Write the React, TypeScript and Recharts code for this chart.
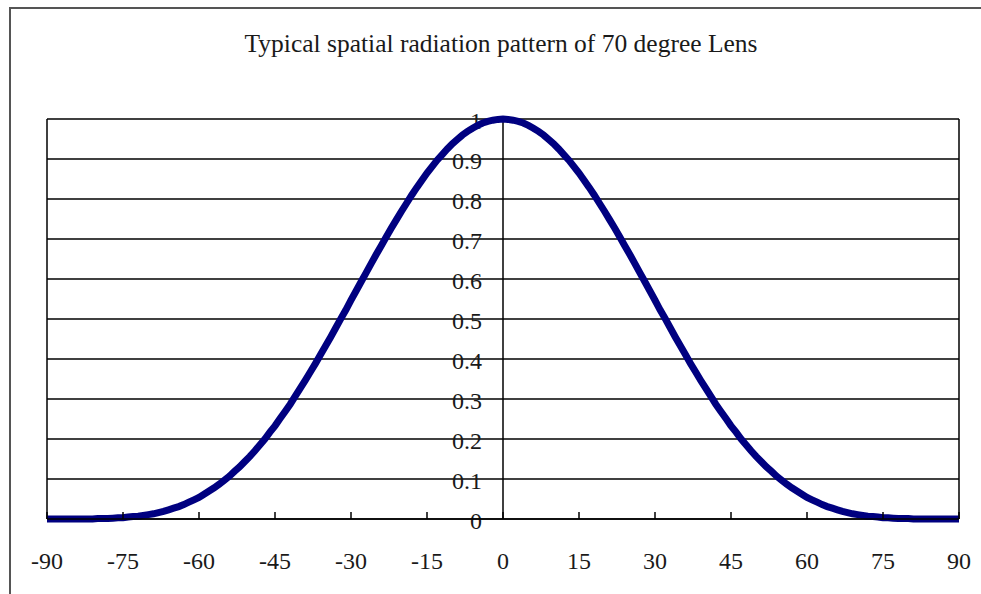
import { LineChart, Line, XAxis, YAxis, ReferenceLine } from "recharts";

// viewing angle in degrees
const angles = [
  -90, -89, -88, -87, -86, -85, -84, -83, -82, -81, -80, -79, -78, -77, -76, -75, -74, -73, -72, -71,
  -70, -69, -68, -67, -66, -65, -64, -63, -62, -61, -60, -59, -58, -57, -56, -55, -54, -53, -52, -51,
  -50, -49, -48, -47, -46, -45, -44, -43, -42, -41, -40, -39, -38, -37, -36, -35, -34, -33, -32, -31,
  -30, -29, -28, -27, -26, -25, -24, -23, -22, -21, -20, -19, -18, -17, -16, -15, -14, -13, -12, -11,
  -10, -9, -8, -7, -6, -5, -4, -3, -2, -1, 0, 1, 2, 3, 4, 5, 6, 7, 8, 9,
  10, 11, 12, 13, 14, 15, 16, 17, 18, 19, 20, 21, 22, 23, 24, 25, 26, 27, 28, 29,
  30, 31, 32, 33, 34, 35, 36, 37, 38, 39, 40, 41, 42, 43, 44, 45, 46, 47, 48, 49,
  50, 51, 52, 53, 54, 55, 56, 57, 58, 59, 60, 61, 62, 63, 64, 65, 66, 67, 68, 69,
  70, 71, 72, 73, 74, 75, 76, 77, 78, 79, 80, 81, 82, 83, 84, 85, 86, 87, 88, 89, 90,
];

// relative intensity
const intensity = [
  0, 0, 0, 0, 0, 0, 0, 0, 0, 0, 0.001, 0.001, 0.001, 0.002, 0.003, 0.003, 0.005, 0.006, 0.007, 0.009,
  0.011, 0.013, 0.016, 0.019, 0.023, 0.027, 0.031, 0.036, 0.042, 0.048, 0.054, 0.062, 0.07, 0.078, 0.087, 0.097, 0.107, 0.119, 0.13, 0.143,
  0.156, 0.17, 0.185, 0.2, 0.217, 0.233, 0.251, 0.269, 0.287, 0.307, 0.327, 0.347, 0.368, 0.389, 0.411, 0.433, 0.455, 0.478, 0.501, 0.523,
  0.547, 0.57, 0.593, 0.616, 0.639, 0.662, 0.684, 0.706, 0.728, 0.749, 0.77, 0.79, 0.81, 0.829, 0.847, 0.865, 0.881, 0.897, 0.911, 0.925,
  0.938, 0.949, 0.96, 0.969, 0.977, 0.984, 0.99, 0.994, 0.997, 0.999, 1, 0.999, 0.997, 0.994, 0.99, 0.984, 0.977, 0.969, 0.96, 0.949,
  0.938, 0.925, 0.911, 0.897, 0.881, 0.865, 0.847, 0.829, 0.81, 0.79, 0.77, 0.749, 0.728, 0.706, 0.684, 0.662, 0.639, 0.616, 0.593, 0.57,
  0.547, 0.523, 0.501, 0.478, 0.455, 0.433, 0.411, 0.389, 0.368, 0.347, 0.327, 0.307, 0.287, 0.269, 0.251, 0.233, 0.217, 0.2, 0.185, 0.17,
  0.156, 0.143, 0.13, 0.119, 0.107, 0.097, 0.087, 0.078, 0.07, 0.062, 0.054, 0.048, 0.042, 0.036, 0.031, 0.027, 0.023, 0.019, 0.016, 0.013,
  0.011, 0.009, 0.007, 0.006, 0.005, 0.003, 0.003, 0.002, 0.001, 0.001, 0.001, 0, 0, 0, 0, 0, 0, 0, 0, 0, 0,
];

const xTicks = [-90, -75, -60, -45, -30, -15, 0, 15, 30, 45, 60, 75, 90];
const yTicks = [0, 0.1, 0.2, 0.3, 0.4, 0.5, 0.6, 0.7, 0.8, 0.9, 1];

const data = angles.map((a, i) => ({ angle: a, value: intensity[i] }));

const FONT = "'Times New Roman', 'Liberation Serif', serif";

function YLabel(props: any) {
  const vb = props.viewBox;
  if (!vb) return null;
  return (
    <text
      x={vb.x + vb.width / 2 - 21}
      y={vb.y + 2}
      textAnchor="end"
      dominantBaseline="central"
      fontSize={24}
      fontFamily={FONT}
      fill="#1a1a1a"
    >
      {props.value}
    </text>
  );
}

export default function App() {
  return (
    <div
      style={{
        position: "fixed",
        left: 0,
        top: 0,
        width: 981,
        height: 594,
        overflow: "hidden",
        background: "#fff",
      }}
    >
      <div
        style={{
          position: "absolute",
          left: 9,
          top: 7,
          width: 1000,
          height: 620,
          borderLeft: "2px solid #555",
          borderTop: "2px solid #555",
        }}
      />
      <div
        style={{
          position: "absolute",
          left: 0,
          top: 31,
          width: 1002,
          textAlign: "center",
          fontFamily: FONT,
          fontSize: 25.5,
          lineHeight: "25px",
          color: "#1a1a1a",
        }}
      >
        Typical spatial radiation pattern of 70 degree Lens
      </div>
      <div style={{ position: "absolute", left: 0, top: 0 }}>
        <LineChart
          width={981}
          height={594}
          data={data}
          margin={{ top: 119, right: 22, bottom: 35, left: 47 }}
        >
          <XAxis
            dataKey="angle"
            type="number"
            domain={[-90, 90]}
            ticks={xTicks}
            height={40}
            tickSize={-7}
            tickMargin={40}
            axisLine={{ stroke: "#000", strokeWidth: 1.5 }}
            tickLine={{ stroke: "#000", strokeWidth: 1.5 }}
            tick={{ fontSize: 24, fontFamily: FONT, fill: "#1a1a1a" }}
            interval={0}
          />
          <YAxis type="number" domain={[0, 1]} ticks={yTicks} hide />
          {yTicks.map((t) => (
            <ReferenceLine
              key={t}
              y={t}
              stroke="#000"
              strokeWidth={1.5}
              label={<YLabel value={String(t)} />}
            />
          ))}
          <ReferenceLine x={-90} stroke="#000" strokeWidth={1.5} />
          <ReferenceLine x={0} stroke="#000" strokeWidth={1.5} />
          <ReferenceLine x={90} stroke="#000" strokeWidth={1.5} />
          <Line
            dataKey="value"
            type="linear"
            stroke="#000080"
            strokeWidth={7}
            dot={false}
            isAnimationActive={false}
          />
        </LineChart>
      </div>
    </div>
  );
}
